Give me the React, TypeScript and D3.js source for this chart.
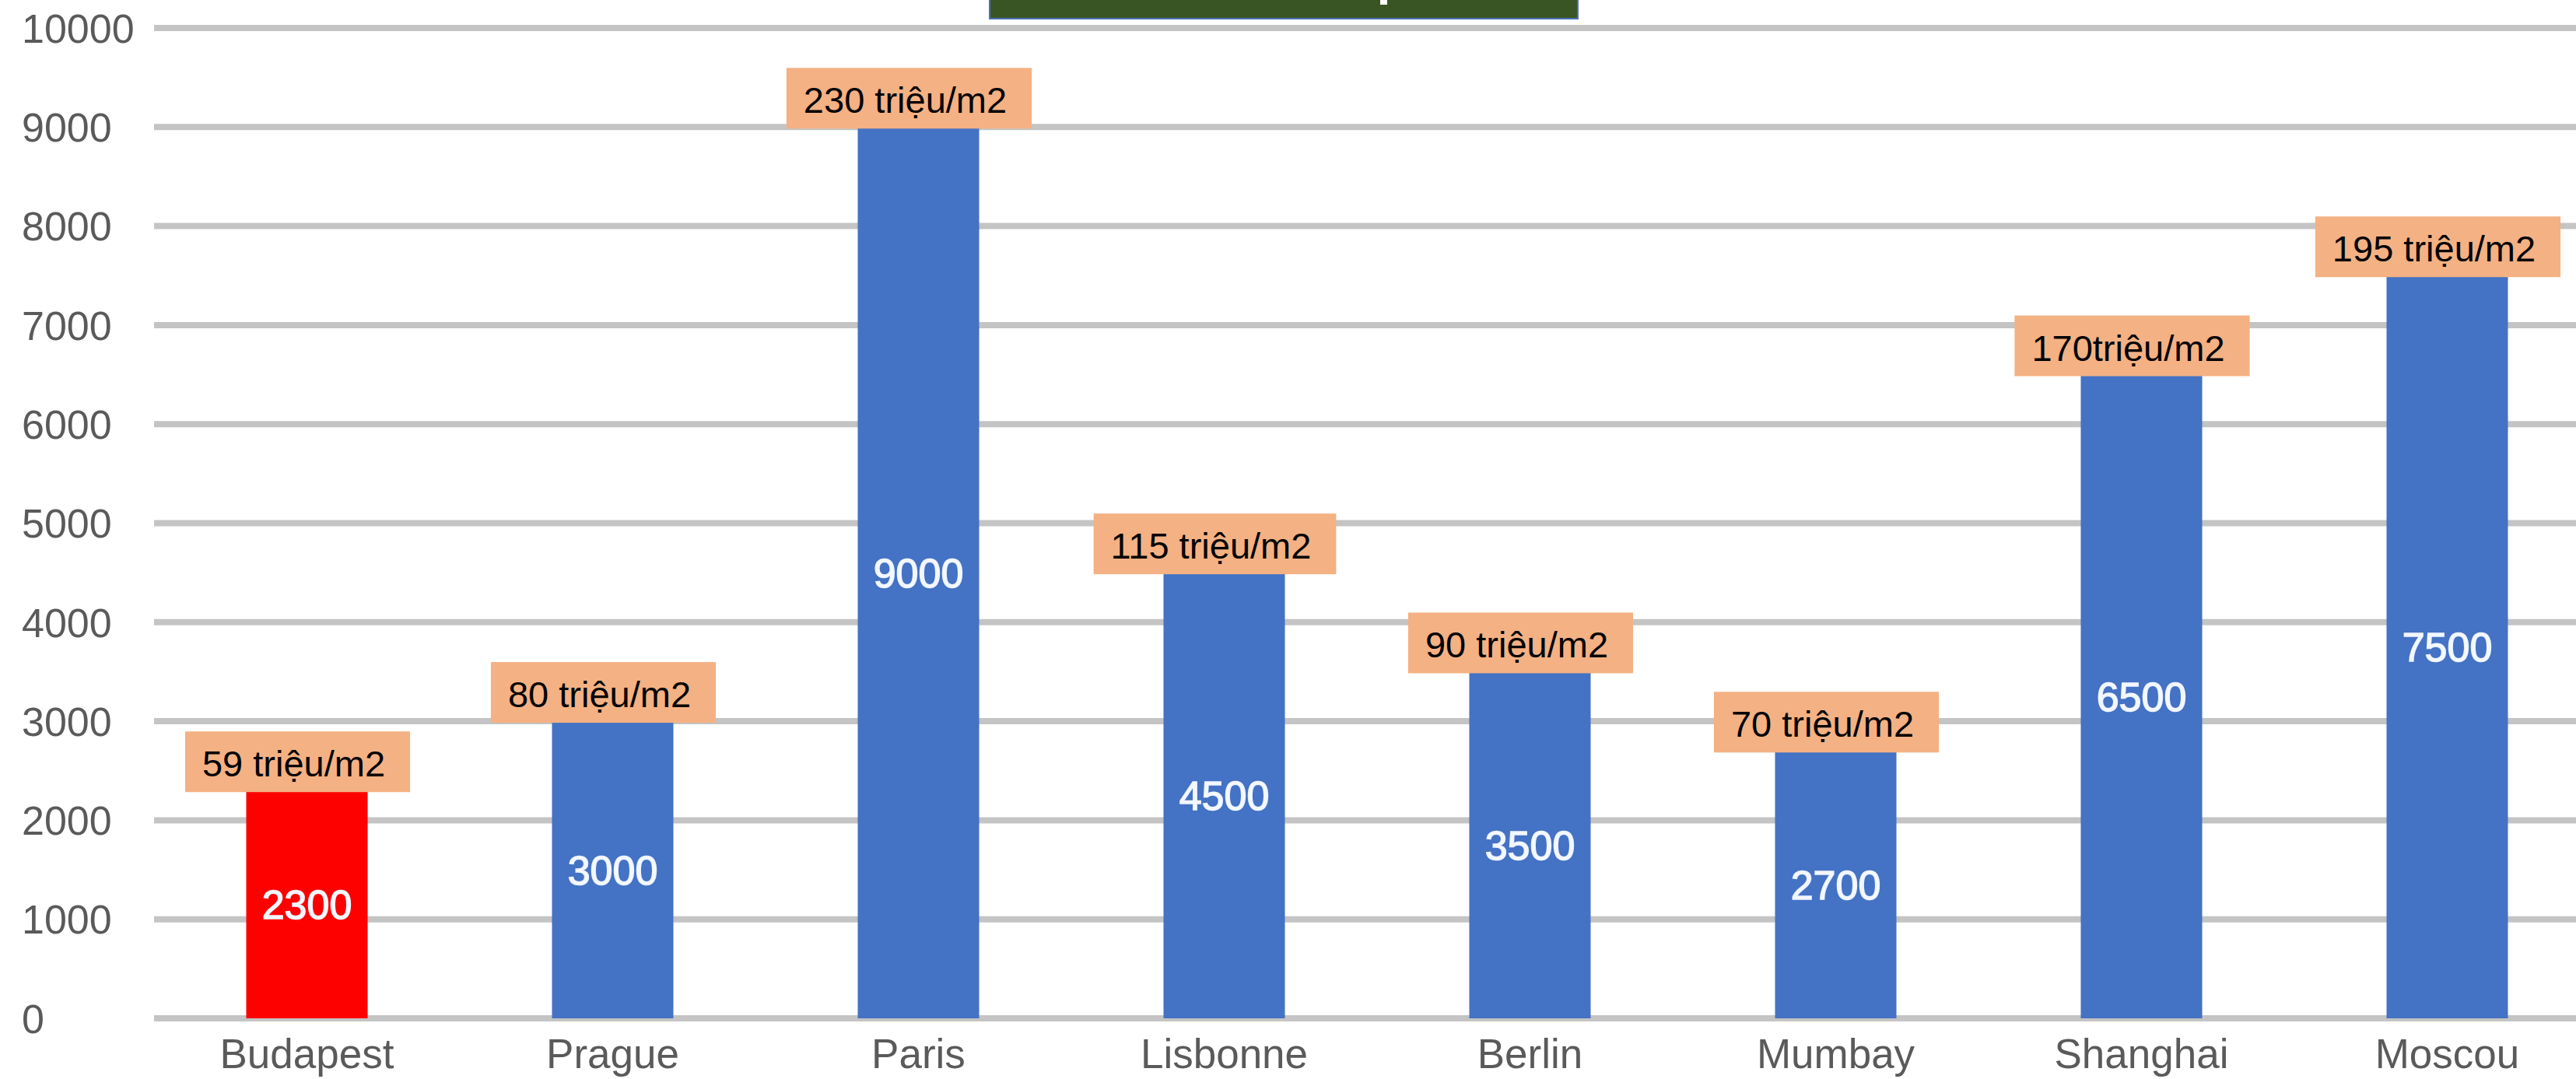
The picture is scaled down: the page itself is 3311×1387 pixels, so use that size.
import { useEffect, useRef } from "react";
import * as d3 from "d3";

const width = 3311;
const height = 1387;

const cities = ["Budapest", "Prague", "Paris", "Lisbonne", "Berlin", "Mumbay", "Shanghai", "Moscou"];
const values = [2300, 3000, 9000, 4500, 3500, 2700, 6500, 7500];
const notes = [
  "59 triệu/m2",
  "80 triệu/m2",
  "230 triệu/m2",
  "115 triệu/m2",
  "90 triệu/m2",
  "70 triệu/m2",
  "170triệu/m2",
  "195 triệu/m2",
];
const yTicks = [0, 1000, 2000, 3000, 4000, 5000, 6000, 7000, 8000, 9000, 10000];

const font = "'Liberation Sans', Arial, sans-serif";

const App = () => {
  const ref = useRef<SVGSVGElement>(null);

  useEffect(() => {
    const svg = d3.select(ref.current);
    svg.selectAll("*").remove();

    const x = d3.scaleBand().domain(cities).range([198, 3342]).paddingInner(0.603).paddingOuter(0.3015);
    const y = d3.scaleLinear().domain([0, 10000]).range([1309, 36]);

    // title box, cut off at the top of the picture
    svg
      .append("rect")
      .attr("x", 1272)
      .attr("y", -10)
      .attr("width", 756)
      .attr("height", 34)
      .attr("fill", "#3a5524")
      .attr("stroke", "#4a72b8")
      .attr("stroke-width", 2);
    svg.append("rect").attr("x", 1774).attr("y", 0).attr("width", 9).attr("height", 6).attr("fill", "#fff");

    // grid
    svg
      .append("g")
      .selectAll("line")
      .data(yTicks)
      .join("line")
      .attr("x1", 198)
      .attr("x2", width)
      .attr("y1", (d) => y(d))
      .attr("y2", (d) => y(d))
      .attr("stroke", "#c4c4c4")
      .attr("stroke-width", 8);

    svg
      .append("g")
      .selectAll("text")
      .data(yTicks)
      .join("text")
      .attr("x", 28)
      .attr("y", (d) => y(d))
      .attr("dy", "0.36em")
      .attr("font-family", font)
      .attr("font-size", 52)
      .attr("fill", "#5a5a5a")
      .text((d) => d);

    // bars
    svg
      .append("g")
      .selectAll("rect")
      .data(values)
      .join("rect")
      .attr("x", (_, i) => x(cities[i])!)
      .attr("y", (d) => y(d))
      .attr("width", x.bandwidth())
      .attr("height", (d) => y(0) - y(d))
      .attr("fill", (_, i) => (i === 0 ? "#fd0000" : "#4472c4"));

    svg
      .append("g")
      .selectAll("text")
      .data(values)
      .join("text")
      .attr("x", (_, i) => x(cities[i])! + x.bandwidth() / 2)
      .attr("y", (d) => (y(d) + y(0)) / 2)
      .attr("dy", "0.36em")
      .attr("text-anchor", "middle")
      .attr("font-family", font)
      .attr("font-size", 52)
      .attr("fill", "#f4f8ff")
      .attr("stroke", "#eef4ff")
      .attr("stroke-width", 1.5)
      .text((d) => d);

    // category labels
    svg
      .append("g")
      .selectAll("text")
      .data(cities)
      .join("text")
      .attr("x", (d) => x(d)! + x.bandwidth() / 2)
      .attr("y", 1373)
      .attr("text-anchor", "middle")
      .attr("font-family", font)
      .attr("font-size", 53)
      .attr("fill", "#5a5a5a")
      .text((d) => d);

    // price notes in orange boxes
    const g = svg.append("g");
    notes.forEach((note, i) => {
      const cx = x(cities[i])! + x.bandwidth() / 2 - 12;
      const bottom = y(values[i]) + 2;
      const box = g.append("rect");
      const t = g
        .append("text")
        .attr("font-family", font)
        .attr("font-size", 47)
        .attr("fill", "#000")
        .attr("y", bottom - 20)
        .text(note);
      const w = (t.node() as SVGTextElement).getComputedTextLength();
      const bw = w + 54;
      t.attr("x", cx - bw / 2 + 22);
      box
        .attr("x", cx - bw / 2)
        .attr("y", bottom - 78)
        .attr("width", bw)
        .attr("height", 78)
        .attr("fill", "#f4b183");
    });
  }, []);

  return (
    <svg
      ref={ref}
      width={width}
      height={height}
      style={{ position: "absolute", left: 0, top: 0, background: "#fff" }}
    />
  );
};

export default App;
